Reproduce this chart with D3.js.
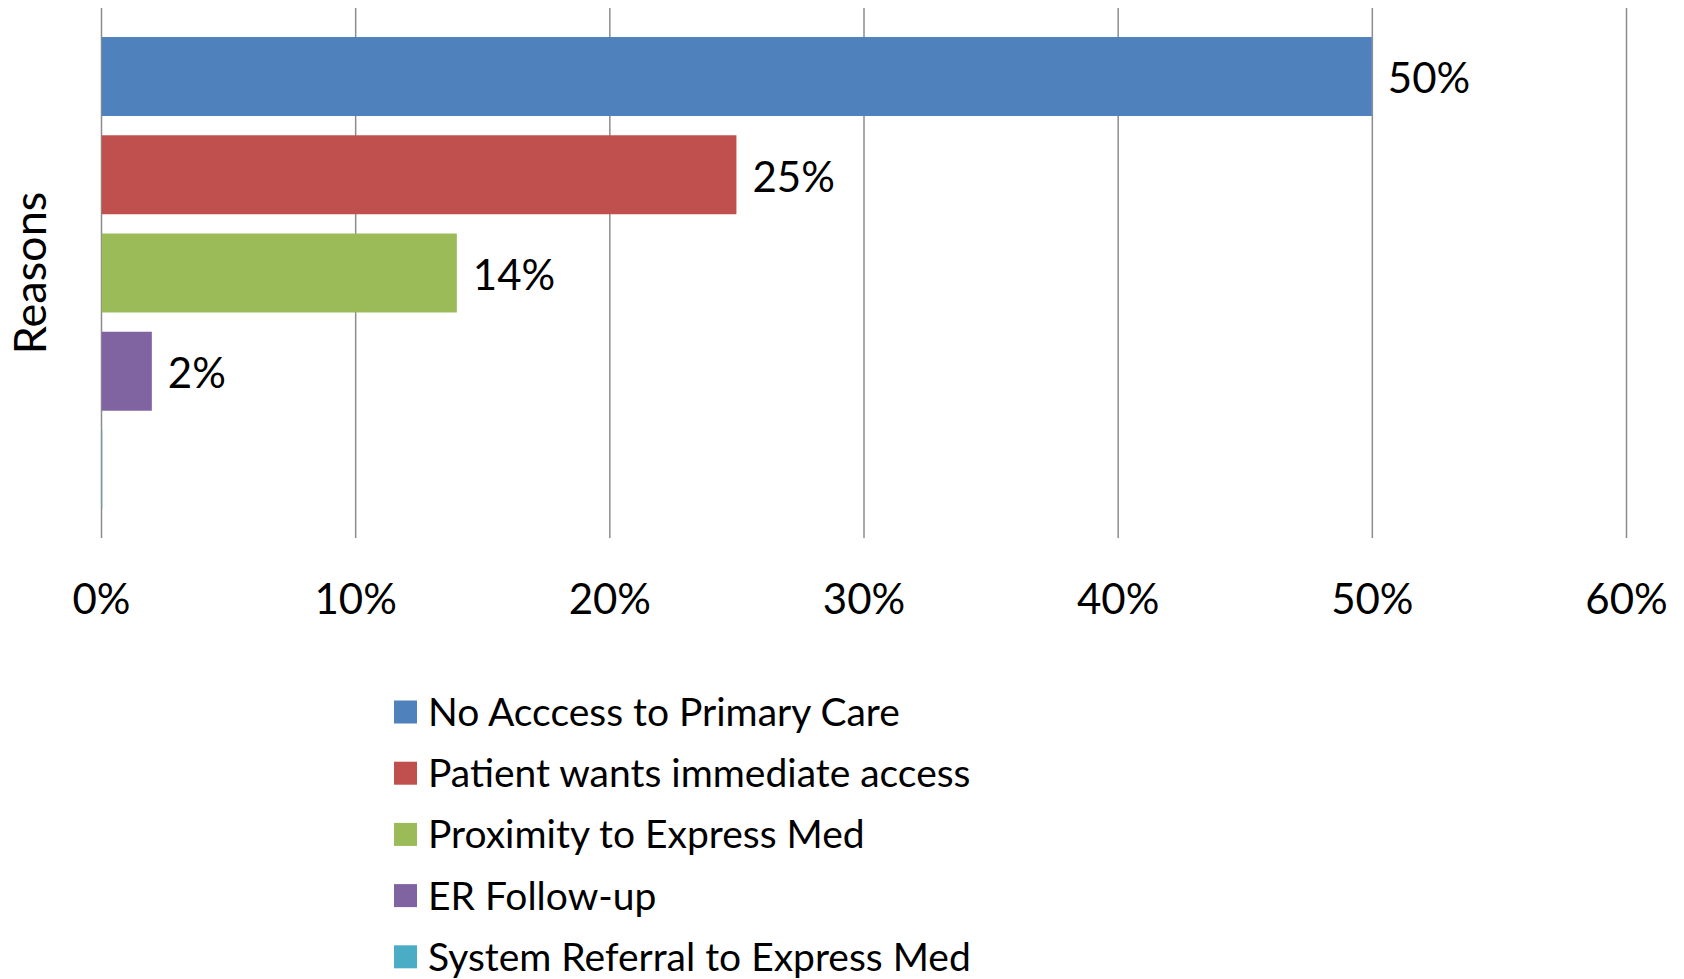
<!DOCTYPE html>
<html>
<head>
<meta charset="utf-8">
<script src="https://cdn.jsdelivr.net/npm/d3@7"></script>
<style>
  body { margin: 0; background: #fff; }
  svg text { font-family: Lato, "Noto Sans", sans-serif; fill: #000; }
</style>
</head>
<body>
<svg id="chart" width="1684" height="979"></svg>
<script>
// chart values
var reasons = ['No Acccess to Primary Care', 'Patient wants immediate access',
  'Proximity to Express Med', 'ER Follow-up', 'System Referral to Express Med'];
var shares = [0.50, 0.25, 0.14, 0.02, 0.0005];
var labels = ['50%', '25%', '14%', '2%', ''];
var colors = ['#4F81BD', '#C0504D', '#9BBB59', '#8064A2', '#4BACC6'];
var xTicks = [0, 0.1, 0.2, 0.3, 0.4, 0.5, 0.6];

var svg = d3.select('#chart');

var plotTop = 8, plotBottom = 538;

var x = d3.scaleLinear().domain([0, 0.6]).range([101, 1626]);
var y = d3.scaleBand().domain(reasons).range([27.4, 518.6])
  .paddingInner(0.196).paddingOuter(0.098);

// gridlines + tick labels
var xAxis = svg.append('g')
  .attr('transform', 'translate(0,' + plotBottom + ')')
  .call(d3.axisBottom(x).tickValues(xTicks).tickFormat(d3.format('.0%'))
    .tickSizeInner(-(plotBottom - plotTop)).tickSizeOuter(0).tickPadding(46));
xAxis.select('.domain').remove();
xAxis.selectAll('.tick line').attr('stroke', '#8c8c8c').attr('stroke-width', 1.5);
xAxis.selectAll('.tick text').style('font-size', '42px').attr('fill', '#000');

// bars
svg.append('g').selectAll('rect')
  .data(reasons)
  .enter().append('rect')
  .attr('x', x(0) + 0.75)
  .attr('y', function (d) { return y(d); })
  .attr('width', function (d, i) { return Math.max(x(shares[i]) - x(0) - 0.75, 0); })
  .attr('height', y.bandwidth())
  .attr('fill', function (d, i) { return colors[i]; });

// data labels
svg.append('g').selectAll('text')
  .data(reasons)
  .enter().append('text')
  .attr('x', function (d, i) { return x(shares[i]) + 16; })
  .attr('y', function (d) { return y(d) + y.bandwidth() / 2; })
  .attr('dy', '0.4em')
  .style('font-size', '42px')
  .text(function (d, i) { return labels[i]; });

// y axis title
svg.append('text')
  .attr('transform', 'translate(46,273) rotate(-90)')
  .attr('text-anchor', 'middle')
  .style('font-size', '45px')
  .text('Reasons');

// legend
var legend = svg.append('g').selectAll('g')
  .data(reasons)
  .enter().append('g')
  .attr('transform', function (d, i) { return 'translate(394,' + (712 + i * 61.2) + ')'; });

legend.append('rect')
  .attr('x', 0).attr('y', -11.5)
  .attr('width', 23).attr('height', 23)
  .attr('fill', function (d, i) { return colors[i]; });

legend.append('text')
  .attr('x', 34)
  .attr('dy', '0.36em')
  .style('font-size', '39px')
  .text(function (d) { return d; });
</script>
</body>
</html>
